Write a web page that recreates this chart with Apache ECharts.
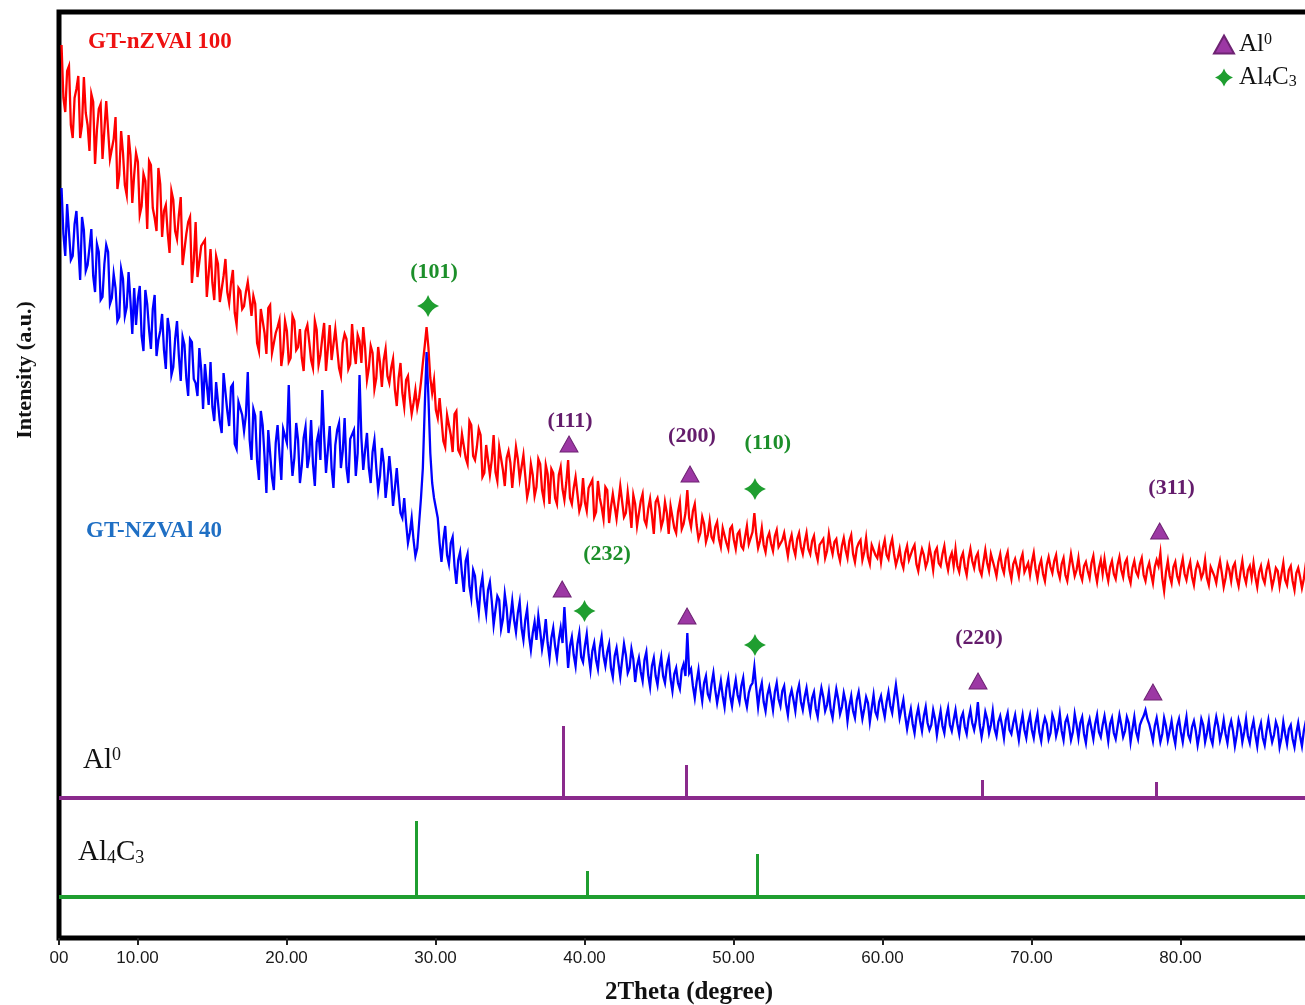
<!DOCTYPE html>
<html>
<head>
<meta charset="utf-8">
<script src="https://cdn.jsdelivr.net/npm/echarts@6/dist/echarts.min.js"></script>
<style>
html,body{margin:0;padding:0;background:#fff;overflow:hidden;}
#chart{width:1340px;height:1005px;}
</style>
</head>
<body>
<div id="chart"></div>
<script>
// 2Theta grid of the scans (degrees)
const X0 = 4.9;
const DX = 0.125;

// GT-nZVAl 100 intensity (a.u.)
const red = [
893,840,826,867,872,813,800,840,849,862,800,813,861,825,813,787,844,836,774,808,829,834,779,779,837,808,779,781,799,821,749,763,807,785,753,743,803,783,735,763,
785,776,723,732,764,757,709,777,773,730,720,707,770,754,701,727,733,705,685,747,738,707,699,723,741,673,672,704,716,721,655,677,716,661,663,692,692,698,641,664,
689,655,638,682,674,636,636,662,679,646,635,655,668,625,613,650,647,629,632,646,656,640,622,642,634,595,587,629,627,605,584,630,633,585,585,605,611,618,572,586,
617,607,576,580,622,617,588,591,609,580,567,607,613,596,578,570,617,608,573,583,600,615,567,589,613,578,579,609,608,570,562,595,604,599,569,574,614,588,574,603,
597,575,611,590,558,570,592,585,549,560,591,575,551,578,589,562,555,570,579,548,532,560,575,545,531,558,562,540,524,535,548,530,540,556,575,592,611,590,560,545,
558,528,520,540,542,497,491,523,522,503,486,524,527,488,484,504,506,480,474,517,513,482,478,491,509,503,461,465,493,494,463,478,503,466,457,491,491,468,452,480,
487,475,450,452,491,479,459,459,483,484,441,450,474,463,442,451,479,474,448,438,473,464,434,469,465,440,434,463,471,449,438,455,478,440,434,450,461,459,427,434,
460,436,427,450,451,458,421,426,457,440,431,419,451,448,415,431,444,442,419,421,452,450,421,425,446,430,410,443,434,412,411,437,444,418,413,429,439,423,404,436,
440,430,411,418,436,425,404,432,431,410,405,426,436,409,414,425,448,420,411,427,434,413,399,405,421,414,396,403,417,401,397,411,416,399,391,410,411,395,389,409,
412,398,389,404,407,392,389,401,412,394,396,406,425,404,390,397,410,393,386,400,405,394,387,402,408,391,390,398,405,393,382,396,403,390,383,399,405,391,384,396,
405,389,384,397,402,386,378,393,396,399,380,387,404,392,384,396,399,385,377,392,400,388,380,397,403,384,376,390,395,398,378,386,400,381,374,393,395,383,380,391,
376,390,398,383,379,392,399,384,373,380,389,376,370,385,392,378,376,389,393,374,367,380,389,383,371,377,391,381,368,386,390,375,372,384,392,377,368,380,385,372,
389,372,366,380,385,371,363,379,389,377,370,381,385,368,363,376,388,375,367,384,382,370,362,376,384,371,365,380,386,368,359,374,379,371,362,378,384,366,364,375,
363,376,385,369,359,372,378,364,357,373,381,371,365,377,383,367,360,374,380,363,357,371,384,373,362,368,380,364,358,372,376,367,360,375,382,366,356,370,378,364,
379,366,357,371,377,364,359,373,381,368,361,375,379,362,355,370,377,366,362,374,380,363,357,369,375,364,355,371,378,372,385,360,347,366,377,362,355,371,376,362,
356,370,379,364,358,369,376,361,353,368,375,370,360,365,378,360,353,371,373,362,355,368,377,365,351,360,374,368,357,371,375,360,352,366,377,362,355,368,372,360,
375,361,351,366,372,360,355,368,375,364,351,359,370,367,352,364,375,358,353,368,372,357,348,365,370,361,350,359,373,366,351,363,370,356,349,367,372,360,353,362
];

// GT-NZVAl 40 intensity (a.u.)
const blue = [
750,704,682,734,732,678,682,714,727,692,658,721,708,667,673,690,709,662,646,694,686,638,641,674,693,686,634,640,664,650,617,621,669,659,622,631,666,637,604,650,
613,639,652,602,587,648,634,608,589,629,643,582,598,607,624,588,569,620,607,563,571,599,617,582,557,601,593,560,542,599,596,559,555,542,590,568,529,574,575,533,
576,531,517,556,558,516,505,565,565,527,512,551,554,494,489,536,538,523,507,523,566,498,478,529,522,477,458,527,513,481,445,508,507,461,448,495,513,484,458,509,
510,495,553,490,462,480,515,498,455,472,500,511,470,482,518,474,452,496,505,478,548,502,465,488,512,470,450,493,508,515,470,487,520,470,455,499,500,508,462,485,
563,500,468,488,505,470,455,486,498,470,448,462,490,475,440,458,482,462,432,450,470,445,425,420,440,415,395,405,420,398,382,390,415,440,470,530,586,540,485,455,
440,430,420,395,376,398,412,383,374,395,401,372,354,378,386,364,346,377,384,352,340,368,362,339,325,350,361,338,324,348,356,337,313,328,342,338,309,319,344,330,
305,320,337,318,306,325,336,310,298,318,329,302,288,305,316,298,322,307,289,301,319,295,280,300,310,292,280,298,310,295,331,300,270,292,301,283,272,294,305,281,
276,292,304,283,268,287,295,278,269,290,301,282,272,286,294,270,261,282,290,275,261,278,294,283,265,270,289,279,256,272,280,266,257,278,286,263,251,272,280,262,
253,270,281,262,255,272,280,259,247,264,270,255,249,268,274,262,305,265,269,252,240,256,268,250,237,255,262,244,239,254,265,248,235,246,257,242,231,250,260,242,
232,247,258,243,236,252,260,240,231,245,252,255,271,250,231,247,255,236,227,243,251,240,228,246,255,239,232,247,252,234,223,241,248,238,227,245,253,236,228,241,
250,236,225,240,246,229,221,238,250,241,227,233,246,228,220,236,249,239,224,231,245,236,217,232,242,227,220,238,246,232,219,229,241,235,216,230,243,226,221,236,
242,230,221,236,246,232,225,240,253,238,220,229,238,222,209,220,229,214,205,221,230,217,207,222,231,215,208,213,228,219,203,216,227,212,205,221,230,213,207,218,
228,214,204,220,225,211,204,219,228,215,208,218,236,213,201,212,226,219,205,213,227,209,202,216,222,212,200,218,225,208,204,215,223,210,198,213,223,208,200,215,
223,208,200,215,224,206,197,212,220,214,199,205,223,217,202,210,224,207,198,216,221,211,198,206,224,213,200,215,221,204,195,212,219,209,199,214,223,206,201,213,
222,210,197,214,220,205,199,211,223,213,201,207,221,215,196,209,221,206,199,213,218,222,228,219,214,206,197,212,220,208,196,204,220,212,198,207,217,203,194,212,
219,206,196,210,221,203,198,211,217,207,193,204,219,213,196,205,217,200,194,210,221,212,198,206,218,204,195,210,217,207,192,203,218,211,196,206,219,202,195,209,
217,203,192,208,215,200,193,207,218,206,196,203,216,210,191,200,216,204,194,209,213,199,191,205,215,202,192,207,216,201,191,203,213,208,189,198,214,204,194,200
];

// Reference patterns
const al0Pos = [38.6, 46.8, 66.7, 78.4];
const al0Top = [212, 173, 158, 156];
const al0Base = 140;
const alcPos = [28.7, 40.2, 51.6];
const alcTop = [117, 67, 84];
const alcBase = 41;

// Phase markers [2theta, intensity]
const al0Markers = [[38.96,494],[47.08,464],[78.6,407],[38.5,349],[46.88,322],[66.41,257],[78.15,246]];
const alcMarkers = [[29.5,632],[51.44,449],[40.0,327],[51.44,293]];

// Miller index labels
const peakNames = ['(101)','(111)','(200)','(110)','(311)','(232)','(220)'];
const peakX = [29.9, 39.03, 47.21, 52.3, 79.4, 41.51, 66.48];
const peakY = [666, 517, 502, 495, 450, 384, 300];
const peakPhase = ['c','a','a','c','a','c','a'];

// Axis
const xMin = 4.73, xMax = 90;
const xTicks = [4.73, 10, 20, 30, 40, 50, 60, 70, 80];

const PURPLE = '#8a2a8c';
const TRI = '#9c38a4';
const GREEN = '#1f9e30';
const STAR = 'path://M0,-10 Q2.6,-2.6 10,0 Q2.6,2.6 0,10 Q-2.6,2.6 -10,0 Q-2.6,-2.6 0,-10 Z';
const SERIF = 'Liberation Serif';

function scan(arr){ return arr.map((v,i)=>[+(X0 + DX*i).toFixed(3), v]); }

const chart = echarts.init(document.getElementById('chart'), null, {renderer:'canvas'});
const option = {
  animation: false,
  backgroundColor: '#fff',
  grid: {left: 59, top: 12, width: 1270.5, height: 926, show: true, borderColor: '#000', borderWidth: 5, backgroundColor: 'transparent'},
  xAxis: {
    type: 'value', min: xMin, max: xMax,
    axisLine: {show: false},
    splitLine: {show: false},
    axisTick: {show: true, customValues: xTicks, length: 7, lineStyle: {color: '#222', width: 2}},
    axisLabel: {customValues: xTicks, margin: 12, fontFamily: 'Liberation Sans', fontSize: 17, color: '#1a1a1a',
      formatter: v => v < 5 ? '00' : v.toFixed(2)}
  },
  yAxis: {
    type: 'value', min: 0, max: 926,
    axisLine: {show: false}, axisTick: {show: false}, axisLabel: {show: false}, splitLine: {show: false}
  },
  legend: {
    data: ['Al0', 'Al4C3'], orient: 'vertical', left: 1208, top: 27,
    itemWidth: 20, itemHeight: 18, itemGap: 8, selectedMode: false,
    formatter: n => n === 'Al0' ? '{b|Al}{sup|0}' : '{b|Al}{sub|4}{b|C}{sub|3}',
    textStyle: {fontFamily: SERIF, fontSize: 25, color: '#111',
      rich: {
        b: {fontFamily: SERIF, fontSize: 25, color: '#111'},
        sup: {fontFamily: SERIF, fontSize: 16, color: '#111', verticalAlign: 'top'},
        sub: {fontFamily: SERIF, fontSize: 16, color: '#111', verticalAlign: 'bottom'}
      }}
  },
  series: [
    {type: 'line', name: 'GT-nZVAl 100', data: scan(red), symbol: 'none', lineStyle: {color: '#ff0000', width: 2.3, join: 'miter'}, z: 2},
    {type: 'line', name: 'GT-NZVAl 40', data: scan(blue), symbol: 'none', lineStyle: {color: '#0000ff', width: 2.3, join: 'miter'}, z: 3},
    {type: 'line', name: 'Al0 ref base', data: [[xMin, al0Base], [xMax, al0Base]], symbol: 'none', lineStyle: {color: PURPLE, width: 4}, z: 2},
    {type: 'lines', name: 'Al0 ref', coordinateSystem: 'cartesian2d', polyline: false,
      data: al0Pos.map((x, i) => ({coords: [[x, al0Base], [x, al0Top[i]]]})), lineStyle: {color: PURPLE, width: 3, opacity: 1}, z: 2},
    {type: 'line', name: 'Al4C3 ref base', data: [[xMin, alcBase], [xMax, alcBase]], symbol: 'none', lineStyle: {color: GREEN, width: 4}, z: 2},
    {type: 'lines', name: 'Al4C3 ref', coordinateSystem: 'cartesian2d', polyline: false,
      data: alcPos.map((x, i) => ({coords: [[x, alcBase], [x, alcTop[i]]]})), lineStyle: {color: GREEN, width: 3, opacity: 1}, z: 2},
    {type: 'scatter', name: 'Al0', data: al0Markers, symbol: 'triangle', symbolSize: [18, 16],
      itemStyle: {color: TRI, borderColor: '#6e2373', borderWidth: 1, opacity: 1}, z: 5},
    {type: 'scatter', name: 'Al4C3', data: alcMarkers, symbol: STAR, symbolSize: 22,
      itemStyle: {color: GREEN, opacity: 1}, z: 5},
    {type: 'scatter', name: 'hkl', symbolSize: 0, z: 6, itemStyle: {opacity: 1},
      data: peakNames.map((n, i) => ({name: n, value: [peakX[i], peakY[i]],
        label: {color: peakPhase[i] === 'a' ? '#641c6c' : '#1c8f2a'}})),
      label: {show: true, position: 'inside', formatter: '{b}', fontFamily: SERIF, fontWeight: 'bold', fontSize: 22}}
  ],
  graphic: [
    {type: 'text', left: 88, top: 31, style: {text: 'GT-nZVAl 100', fill: '#ee1111', font: 'bold 23px "Liberation Serif"'}},
    {type: 'text', left: 86, top: 520, style: {text: 'GT-NZVAl 40', fill: '#1f6fc4', font: 'bold 23px "Liberation Serif"'}},
    {type: 'text', left: 83, top: 746, style: {text: '{b|Al}{sup|0}', rich: {
      b: {fontFamily: SERIF, fontSize: 29, fill: '#111'}, sup: {fontFamily: SERIF, fontSize: 18, fill: '#111', verticalAlign: 'top'}}}},
    {type: 'text', left: 78, top: 838, style: {text: '{b|Al}{sub|4}{b|C}{sub|3}', rich: {
      b: {fontFamily: SERIF, fontSize: 29, fill: '#111'}, sub: {fontFamily: SERIF, fontSize: 18, fill: '#111', verticalAlign: 'bottom'}}}},
    {type: 'text', x: 25, y: 370, rotation: Math.PI / 2, style: {text: 'Intensity (a.u.)', fill: '#111',
      font: 'bold 22px "Liberation Serif"', align: 'center', verticalAlign: 'middle'}},
    {type: 'text', x: 689, y: 993, style: {text: '2Theta (degree)', fill: '#111',
      font: 'bold 25px "Liberation Serif"', align: 'center', verticalAlign: 'middle'}}
  ]
};
chart.setOption(option);
</script>
</body>
</html>
